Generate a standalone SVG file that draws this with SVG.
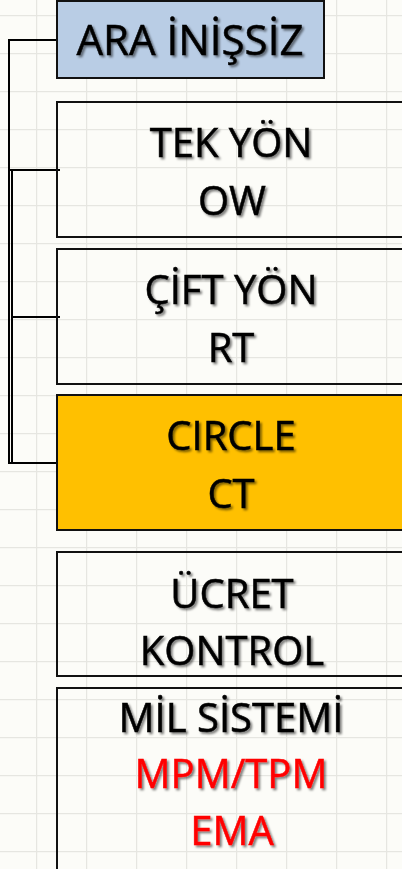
<svg xmlns="http://www.w3.org/2000/svg" width="402" height="869" viewBox="0 0 402 869">
<defs>
<pattern id="grid" x="36" y="15" width="50" height="38" patternUnits="userSpaceOnUse">
<path d="M0.5,0 V38 M0,0.5 H50" fill="none" stroke="#e6e6e1" stroke-width="1.5"/>
</pattern>
<filter id="sh" x="-10%" y="-20%" width="130%" height="150%">
<feDropShadow dx="2" dy="2" stdDeviation="1.2" flood-color="#000" flood-opacity="0.5"/>
</filter>
</defs>
<style>
.box{stroke:#111;stroke-width:2;fill:none}
.t{font-family:"Open Sans","Noto Sans",sans-serif;font-size:40px;text-anchor:middle;fill:#000;stroke:#000;stroke-width:0.5;filter:url(#sh)}
.red{fill:#ff0000;stroke:#ff0000}
.con{fill:none;stroke:#000;stroke-width:2}
</style>
<rect x="0" y="0" width="402" height="869" fill="#fcfcf8"/>
<rect x="0" y="0" width="402" height="869" fill="url(#grid)"/>
<rect x="189" y="0" width="2" height="2" fill="#ff0000"/>
<g id="connectors">
<path class="con" d="M57,40 H9 V463 H57"/>
<path class="con" d="M60,170 H9 M12,170 V463"/>
<path class="con" d="M60,317 H12"/>
</g>
<g id="ara">
<rect x="57" y="1" width="267" height="77" fill="#b9cde5" stroke="#111" stroke-width="2"/>
<text class="t" x="190" y="55" style="font-size:42px">ARA İNİŞSİZ</text>
</g>
<g id="tek">
<rect class="box" x="57" y="102" width="370" height="135"/>
<text class="t" x="231" y="157">TEK YÖN</text>
<text class="t" x="232" y="215">OW</text>
</g>
<g id="cift">
<rect class="box" x="57" y="249" width="370" height="135"/>
<text class="t" x="231" y="304">ÇİFT YÖN</text>
<text class="t" x="231" y="362">RT</text>
</g>
<g id="circle">
<rect x="57" y="395" width="370" height="135" fill="#ffc000" stroke="#111" stroke-width="2"/>
<text class="t" x="231" y="450">CIRCLE</text>
<text class="t" x="231" y="508">CT</text>
</g>
<g id="ucret">
<rect class="box" x="57" y="552" width="370" height="124"/>
<text class="t" x="232" y="608">ÜCRET</text>
<text class="t" x="232" y="665">KONTROL</text>
</g>
<g id="mil">
<rect class="box" x="57" y="688" width="370" height="200"/>
<text class="t" x="231" y="732">MİL SİSTEMİ</text>
<text class="t red" x="231" y="788">MPM/TPM</text>
<text class="t red" x="232" y="845">EMA</text>
</g>
</svg>
